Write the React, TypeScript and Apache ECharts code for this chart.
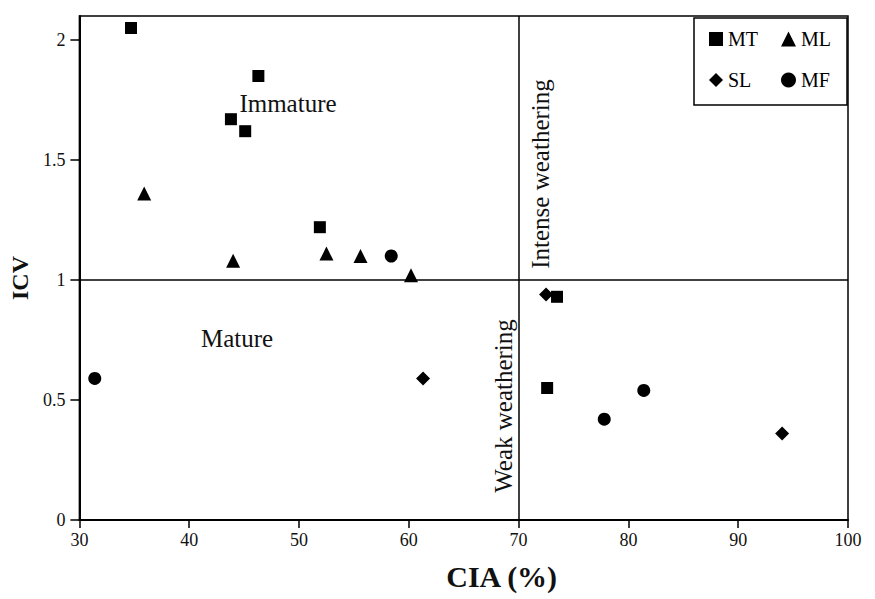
import React, { useEffect, useRef } from "react";
import * as echarts from "echarts";

// ---- data (CIA %, ICV) ----
const mtCIA = [34.7, 46.3, 43.8, 45.1, 51.9, 73.5, 72.6];
const mtICV = [2.05, 1.85, 1.67, 1.62, 1.22, 0.93, 0.55];
const mlCIA = [35.9, 44.0, 52.5, 55.6, 60.2];
const mlICV = [1.36, 1.08, 1.11, 1.1, 1.02];
const slCIA = [61.3, 72.5, 94.0];
const slICV = [0.59, 0.94, 0.36];
const mfCIA = [31.4, 58.4, 81.4, 77.8];
const mfICV = [0.59, 1.1, 0.54, 0.42];

const xTicks = [30, 40, 50, 60, 70, 80, 90, 100];
const yTicks = [0, 0.5, 1, 1.5, 2];
const ciaThreshold = 70;
const icvThreshold = 1;

const serif = "'Liberation Serif', 'Times New Roman', serif";

export default function App() {
  const ref = useRef<HTMLDivElement>(null);
  useEffect(() => {
    const chart = echarts.init(ref.current!, null, { renderer: "svg" });
    const zip = (xs: number[], ys: number[]) => xs.map((x, i) => [x, ys[i]]);
    const labelStyle = { fontFamily: serif, fontSize: 18, color: "#111" };
    const textStyle = (text: string) => ({
      text,
      fontFamily: serif,
      fontSize: 25,
      fill: "#111",
      align: "center",
      verticalAlign: "middle",
      textAlign: "center",
      textVerticalAlign: "middle",
    });
    const markerStyle = { color: "#000", opacity: 1 };
    chart.setOption({
      animation: false,
      backgroundColor: "#fff",
      grid: {
        left: 78,
        right: 27,
        top: 16,
        bottom: 79,
        show: true,
        borderColor: "#000",
        borderWidth: 1.5,
      },
      xAxis: {
        type: "value",
        min: xTicks[0],
        max: xTicks[xTicks.length - 1],
        interval: 10,
        name: "CIA (%)",
        nameLocation: "middle",
        nameGap: 41,
        nameTextStyle: {
          fontFamily: serif,
          fontSize: 30,
          fontWeight: "bold",
          color: "#111",
          padding: [0, 0, 0, 76],
        },
        axisLine: { lineStyle: { color: "#000", width: 2 } },
        axisTick: { show: true, inside: false, length: 8, lineStyle: { color: "#000", width: 1.5 } },
        axisLabel: { ...labelStyle, margin: 11 },
        splitLine: { show: false },
      },
      yAxis: {
        type: "value",
        min: 0,
        max: 2.1,
        interval: 0.5,
        name: "ICV",
        nameLocation: "middle",
        nameGap: 28,
        nameRotate: 90,
        nameTextStyle: {
          fontFamily: serif,
          fontSize: 24,
          fontWeight: "bold",
          color: "#111",
          padding: [0, 20, 0, 0],
        },
        axisLine: { lineStyle: { color: "#000", width: 2 } },
        axisTick: {
          show: true,
          inside: false,
          length: 9,
          customValues: yTicks,
          lineStyle: { color: "#000", width: 1.5 },
        },
        axisLabel: {
          ...labelStyle,
          margin: 14,
          customValues: yTicks,
          formatter: (v: number) => (yTicks.includes(v) ? String(v) : ""),
        },
        splitLine: { show: false },
      },
      legend: [
        {
          orient: "vertical",
          left: 709,
          top: 29,
          padding: 0,
          itemGap: 21,
          itemWidth: 14,
          itemHeight: 14,
          data: ["MT", "SL"],
          textStyle: { fontFamily: serif, fontSize: 20, color: "#000" },
        },
        {
          orient: "vertical",
          left: 781,
          top: 29,
          padding: 0,
          itemGap: 21,
          itemWidth: 15,
          itemHeight: 15,
          data: ["ML", "MF"],
          textStyle: { fontFamily: serif, fontSize: 20, color: "#000" },
        },
      ],
      graphic: [
        {
          type: "rect",
          shape: { x: 694, y: 18, width: 153, height: 87 },
          style: { fill: "none", stroke: "#000", lineWidth: 1.5 },
          z: 0,
        },
        { type: "text", x: 288, y: 103, style: textStyle("Immature") },
        { type: "text", x: 237, y: 338, style: textStyle("Mature") },
        { type: "text", x: 540, y: 174, rotation: Math.PI / 2, style: textStyle("Intense weathering") },
        { type: "text", x: 503, y: 406, rotation: Math.PI / 2, style: textStyle("Weak weathering") },
      ],
      series: [
        {
          name: "MT",
          type: "scatter",
          symbol: "rect",
          symbolSize: 12,
          itemStyle: markerStyle,
          data: zip(mtCIA, mtICV),
          z: 3,
          markLine: {
            silent: true,
            symbol: ["none", "none"],
            label: { show: false },
            lineStyle: { color: "#000", width: 1.5, type: "solid", opacity: 1 },
            data: [{ xAxis: ciaThreshold }, { yAxis: icvThreshold }],
          },
        },
        {
          name: "ML",
          type: "scatter",
          symbol: "triangle",
          symbolSize: 14,
          itemStyle: markerStyle,
          data: zip(mlCIA, mlICV),
          z: 3,
        },
        {
          name: "SL",
          type: "scatter",
          symbol: "diamond",
          symbolSize: 14,
          itemStyle: markerStyle,
          data: zip(slCIA, slICV),
          z: 3,
        },
        {
          name: "MF",
          type: "scatter",
          symbol: "circle",
          symbolSize: 13,
          itemStyle: markerStyle,
          data: zip(mfCIA, mfICV),
          z: 3,
        },
      ],
    });
    return () => chart.dispose();
  }, []);
  return (
    <div
      ref={ref}
      style={{ position: "fixed", left: 0, top: 0, width: 875, height: 599 }}
    />
  );
}
